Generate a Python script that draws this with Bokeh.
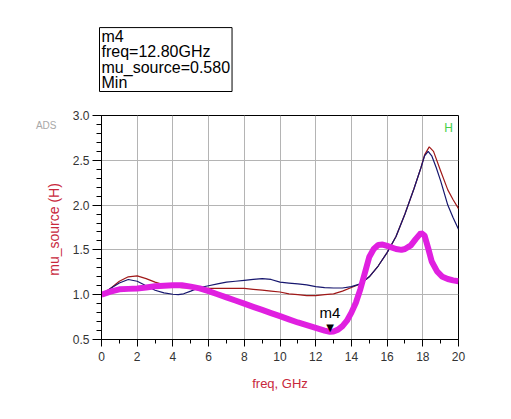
from bokeh.plotting import figure
from bokeh.models import (Label, Title, LinearAxis, FixedTicker, SingleIntervalTicker,
                          NumeralTickFormatter, Range1d)
from bokeh.core.properties import value
from bokeh.embed import file_html
from bokeh.resources import INLINE

# ---- data ----
freq_mu = [0, 0.5, 1.0, 1.5, 2.0, 2.5, 3.0, 3.5, 4.0, 4.5, 5.0, 5.5, 6.0, 6.5, 7.0, 7.5, 8.0,
           8.5, 9.0, 9.5, 10.0, 10.5, 11.0, 11.5, 12.0, 12.5, 12.8, 13.0, 13.25, 13.5, 13.75,
           14.0, 14.25, 14.5, 14.75, 15.0, 15.25, 15.5, 15.75, 16.0, 16.5, 16.8, 17.0, 17.33,
           17.6, 17.9, 18.1, 18.3, 18.5, 18.8, 19.1, 19.4, 19.7, 20.0]
mu_source = [1.00, 1.035, 1.06, 1.065, 1.07, 1.08, 1.095, 1.10, 1.105, 1.105, 1.09, 1.07, 1.04,
             1.005, 0.97, 0.935, 0.90, 0.865, 0.83, 0.795, 0.76, 0.725, 0.69, 0.66, 0.63, 0.60,
             0.585, 0.59, 0.61, 0.65, 0.71, 0.80, 0.91, 1.06, 1.24, 1.42, 1.51, 1.555, 1.56,
             1.545, 1.51, 1.50, 1.51, 1.55, 1.62, 1.69, 1.66, 1.52, 1.37, 1.26, 1.20, 1.175,
             1.16, 1.15]

freq_blue = [0, 0.5, 1.0, 1.5, 2.0, 2.5, 3.0, 3.5, 4.0, 4.3, 4.6, 5.0, 5.5, 6.0, 6.5, 7.0, 7.5,
             8.0, 8.5, 9.0, 9.5, 10.0, 10.5, 11.0, 11.5, 12.0, 12.5, 13.0, 13.5, 14.0, 14.5,
             15.0, 15.5, 16.0, 16.5, 17.0, 17.5, 17.9, 18.1, 18.3, 18.5, 18.75, 19.0, 19.4,
             19.7, 20.0]
mu_blue = [1.00, 1.07, 1.13, 1.17, 1.15, 1.10, 1.05, 1.02, 1.005, 1.00, 1.01, 1.04, 1.08, 1.10,
           1.12, 1.14, 1.15, 1.16, 1.17, 1.18, 1.17, 1.14, 1.13, 1.12, 1.11, 1.09, 1.08, 1.075,
           1.075, 1.09, 1.12, 1.20, 1.32, 1.47, 1.65, 1.90, 2.18, 2.42, 2.55, 2.60, 2.55, 2.42,
           2.27, 2.00, 1.86, 1.73]

freq_red = [0, 0.5, 1.0, 1.5, 2.0, 2.5, 3.0, 3.5, 4.0, 4.5, 5.0, 6.0, 7.0, 8.0, 8.5, 9.0, 9.5,
            10.0, 10.5, 11.0, 11.5, 12.0, 12.5, 13.0, 13.5, 14.0, 14.5, 15.0, 15.5, 16.0, 16.5,
            17.0, 17.5, 17.9, 18.1, 18.36, 18.6, 19.0, 19.4, 19.7, 20.0]
mu_red = [1.00, 1.07, 1.15, 1.20, 1.21, 1.18, 1.14, 1.11, 1.09, 1.08, 1.08, 1.07, 1.07, 1.07,
          1.06, 1.05, 1.04, 1.03, 1.01, 1.00, 0.99, 0.99, 1.00, 1.01, 1.04, 1.08, 1.12, 1.20,
          1.32, 1.47, 1.65, 1.90, 2.18, 2.42, 2.56, 2.65, 2.60, 2.38, 2.17, 2.06, 1.96]

marker_name = "m4"
marker_freq = [12.8]
marker_val = [0.58]
marker_lines = "m4\nfreq=12.80GHz\nmu_source=0.580\nMin"
corner_tag = "ADS"
corner_tag_pos = 2.89
trace_tag = "H"

FONT = "Liberation Sans"

p = figure(width=495, height=403, output_backend="svg", toolbar_location=None,
           x_range=Range1d(0, 20), y_range=Range1d(0.5, 3.0),
           min_border_left=101, min_border_right=37, min_border_top=115, min_border_bottom=64)
p.outline_line_color = "black"
p.outline_line_width = 1
p.background_fill_color = "white"
p.border_fill_color = "white"

p.xaxis.ticker = SingleIntervalTicker(interval=2, num_minor_ticks=2)
p.yaxis.ticker = SingleIntervalTicker(interval=0.5, num_minor_ticks=5)
p.yaxis.formatter = NumeralTickFormatter(format="0.0")
for ax in (p.xaxis, p.yaxis):
    ax.axis_line_color = "black"
    ax.major_tick_line_color = "black"
    ax.minor_tick_line_color = "black"
    ax.major_tick_in = 0
    ax.minor_tick_in = 0
    ax.major_label_text_font = FONT
    ax.major_label_text_font_size = "12px"
    ax.major_label_text_color = "#333333"
    ax.axis_label_text_font = FONT
    ax.axis_label_text_font_style = "normal"
    ax.axis_label_text_color = "#c8283c"
p.xaxis.major_tick_out = 7
p.xaxis.minor_tick_out = 4
p.yaxis.major_tick_out = 9
p.yaxis.minor_tick_out = 5
p.xaxis.axis_label = "freq, GHz"
p.xaxis.axis_label_text_font_size = "13px"
p.xaxis.axis_label_standoff = 12
p.yaxis.axis_label = "mu_source  (H)"
p.yaxis.axis_label_text_font_size = "14px"
p.yaxis.axis_label_standoff = 8
p.xaxis.major_label_standoff = 5
p.yaxis.major_label_standoff = 3

# "ADS" tag left of the axis, drawn as a label-only axis
tag_axis = LinearAxis(ticker=FixedTicker(ticks=[corner_tag_pos]),
                      major_label_overrides={corner_tag_pos: corner_tag},
                      axis_line_color=None, major_tick_line_color=None,
                      minor_tick_line_color=None,
                      major_label_text_font=FONT, major_label_text_font_size="10px",
                      major_label_text_color="#a8a8a8", major_label_standoff=-20)
p.add_layout(tag_axis, "left")

p.grid.grid_line_color = "#b4b4b4"
p.grid.grid_line_width = 1

p.line(freq_red, mu_red, line_color="#a01818", line_width=1.2)
p.line(freq_blue, mu_blue, line_color="#16166e", line_width=1.2)
p.line(freq_mu, mu_source, line_color="#e020e0", line_width=6)

p.text(marker_freq, marker_val, text=["\u25BC"], text_font=value("DejaVu Sans"),
       text_font_size="10px", text_align="center", text_baseline="bottom",
       text_color="black", y_offset=1)
p.text(marker_freq, marker_val, text=[marker_name], text_font=value(FONT),
       text_font_size="15px", text_align="center", text_baseline="bottom",
       text_color="black", y_offset=-11)

box = Title(text=marker_lines, align="left", offset=-2, standoff=48,
            text_font=FONT, text_font_size="16px", text_font_style="normal",
            text_color="black", text_line_height=0.92,
            border_line_color="black", border_line_width=1,
            background_fill_color="white",
            padding=dict(left=2, right=2, top=0, bottom=0))
p.add_layout(box, "above")

hlab = Label(x=347, y=212, x_units="screen", y_units="screen", text=trace_tag,
             text_font=FONT, text_font_size="12px", text_color="#48d048",
             text_align="center", text_baseline="middle")
p.add_layout(hlab)

open("out.html", "w").write(file_html(p, INLINE))
